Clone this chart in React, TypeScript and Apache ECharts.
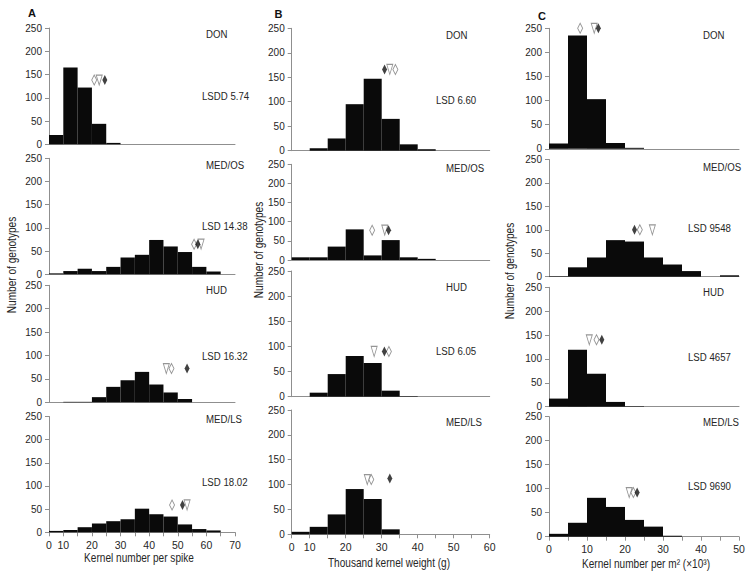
import React, { useEffect, useRef } from "react";
import * as echarts from "echarts";

// ---------- DATA ----------
const panelNames = ["DON", "MED/OS", "HUD", "MED/LS"];

// Column A: kernel number per spike (13 bins)
const countsA = [
  [20, 165, 122, 44, 3, 0, 0, 0, 0, 0, 0, 0, 0],
  [2, 7, 12, 7, 16, 36, 42, 74, 60, 48, 16, 6, 0],
  [0, 1, 1, 11, 33, 47, 65, 38, 21, 7, 0, 0, 0],
  [3, 5, 11, 19, 24, 28, 51, 39, 34, 17, 7, 4, 0],
];
const tickLabelsA = ["0", "10", "", "20", "", "30", "", "40", "", "50", "", "60", "", "70"];
const lsdA = ["LSDD 5.74", "LSD 14.38", "LSD 16.32", "LSD 18.02"];
const openDiamondA = [[3.16, 138], [10.14, 65], [8.56, 72], [8.6, 59]];
const triangleA = [[3.51, 138], [10.63, 65], [8.2, 72], [9.65, 59]];
const solidDiamondA = [[3.9, 138], [10.4, 65], [9.65, 72], [9.33, 59]];

// Column B: thousand kernel weight (11 bins)
const countsB = [
  [0, 5, 25, 95, 147, 65, 13, 3, 0, 0, 0],
  [7, 7, 35, 80, 12, 52, 7, 3, 0, 0, 0],
  [0, 8, 45, 81, 67, 12, 1, 0, 0, 0, 0],
  [5, 15, 40, 91, 71, 10, 0, 0, 0, 0, 0],
];
const tickLabelsB = ["0", "10", "", "20", "", "30", "", "40", "", "50", "", "60"];
const lsdB = ["LSD 6.60", "", "LSD 6.05", ""];
const openDiamondB = [[5.76, 166], [4.47, 78], [5.4, 90], [4.42, 110]];
const triangleB = [[5.45, 166], [5.17, 78], [4.58, 90], [4.2, 110]];
const solidDiamondB = [[5.16, 166], [5.38, 78], [5.15, 90], [5.45, 112]];

// Column C: kernel number per m2 (x10^3), bins of 5
const countsC = [
  [11, 235, 103, 12, 2, 0, 0, 0, 0, 0],
  [1, 20, 41, 78, 75, 41, 26, 12, 0, 3],
  [17, 119, 69, 10, 1, 0, 0, 0, 0, 0],
  [6, 29, 81, 62, 35, 21, 2, 0, 0, 0],
];
const tickLabelsC = ["0", "", "10", "", "20", "", "30", "", "40", "", "50"];
const lsdC = ["", "LSD 9548", "LSD 4657", "LSD 9690"];
const openDiamondC = [[8.2, 250], [23.9, 100], [12.5, 140], [22.2, 92]];
const triangleC = [[11.9, 250], [27.2, 100], [10.6, 140], [21.1, 92]];
const solidDiamondC = [[13, 250], [22.5, 100], [13.9, 140], [23.2, 92]];

const yTitle = "Number of genotypes";
const xTitles = ["Kernel number per spike", "Thousand kernel weight (g)", "Kernel number per m² (×10³)"];
const panelLetters = ["A", "B", "C"];

// ---------- LAYOUT ----------
const FONT = "'Liberation Sans', sans-serif";
const NARROW = 0.84;
const AXIS_GRAY = "#8f8f8f";
const TEXT = "#262626";

const columns = [
  {
    counts: countsA, binW: 1, ticks: tickLabelsA, lsd: lsdA,
    od: openDiamondA, tr: triangleA, sd: solidDiamondA,
    left: 49, width: 186,
    tops: [28, 158.3, 285.3, 416.5], bottoms: [144.3, 274.3, 402.3, 532.3],
    nameX: 206, nameY: [34, 165, 290, 419], lsdX: 202, lsdY: [96, 226, 356, 482],
    yTitle: { x: 12, y: 265 }, xTitle: { x: 139, y: 558 }, letter: { x: 32, y: 12.5 },
  },
  {
    counts: countsB, binW: 1, ticks: tickLabelsB, lsd: lsdB,
    od: openDiamondB, tr: triangleB, sd: solidDiamondB,
    left: 291.7, width: 198,
    tops: [28.3, 164.3, 271, 410], bottoms: [150.7, 260, 396.7, 534.3],
    nameX: 446, nameY: [35, 168, 287, 422], lsdX: 436, lsdY: [100, 0, 351, 0],
    yTitle: { x: 259, y: 250 }, xTitle: { x: 389, y: 563 }, letter: { x: 278.5, y: 14 },
  },
  {
    counts: countsC, binW: 5, ticks: tickLabelsC, lsd: lsdC,
    od: openDiamondC, tr: triangleC, sd: solidDiamondC,
    left: 549, width: 190,
    tops: [28.3, 159.5, 287.3, 416.7], bottoms: [148.8, 276.7, 406.7, 536.7],
    nameX: 703, nameY: [35, 167, 292, 422], lsdX: 688, lsdY: [0, 228, 357, 486],
    yTitle: { x: 510, y: 271 }, xTitle: { x: 646, y: 564 }, letter: { x: 542, y: 15.5 },
  },
];

function narrowText(x: number, y: number, text: string, size: number, align: string, extra: any = {}) {
  return {
    type: "text",
    x,
    y,
    scaleX: NARROW,
    ...extra,
    style: {
      text,
      fontSize: size,
      fontFamily: FONT,
      fill: TEXT,
      textAlign: align,
      textVerticalAlign: "middle",
    },
  };
}

function buildOption() {
  const grid: any[] = [];
  const xAxis: any[] = [];
  const yAxis: any[] = [];
  const series: any[] = [];
  const graphic: any[] = [];

  columns.forEach((col, ci) => {
    const nBins = col.counts[0].length;
    for (let r = 0; r < 4; r++) {
      const gi = grid.length;
      const isBottom = r === 3;
      grid.push({
        left: col.left,
        top: col.tops[r],
        width: col.width,
        height: col.bottoms[r] - col.tops[r],
        containLabel: false,
      });
      const labels = col.ticks;
      const bw = col.binW;
      xAxis.push({
        type: "value",
        gridIndex: gi,
        min: 0,
        max: nBins * bw,
        interval: bw,
        axisLine: { show: true, onZero: false, lineStyle: { color: AXIS_GRAY, width: 1 } },
        axisTick: { show: isBottom, inside: false, length: 4, lineStyle: { color: AXIS_GRAY } },
        axisLabel: {
          show: isBottom,
          margin: 7,
          fontSize: 10.5,
          fontFamily: FONT,
          color: TEXT,
          showMinLabel: true,
          showMaxLabel: true,
          formatter: (v: number) => labels[Math.round(v / bw)] ?? "",
        },
        splitLine: { show: false },
      });
      yAxis.push({
        type: "value",
        gridIndex: gi,
        min: 0,
        max: 250,
        interval: 50,
        axisLine: { show: true, lineStyle: { color: AXIS_GRAY, width: 1 } },
        axisTick: { show: true, inside: false, length: 4, lineStyle: { color: AXIS_GRAY } },
        axisLabel: { margin: 7, fontSize: 10, lineHeight: 8, fontFamily: FONT, color: TEXT },
        splitLine: { show: false },
      });

      series.push({
        type: "custom",
        xAxisIndex: gi,
        yAxisIndex: gi,
        clip: false,
        encode: { x: 0, y: 1 },
        data: col.counts[r].map((c, i) => [i * bw, c]),
        renderItem: (params: any, api: any) => {
          const x0 = api.value(0);
          const v = api.value(1);
          if (!v) return null;
          const p0 = api.coord([x0, 0]);
          const p1 = api.coord([x0 + bw, v]);
          return {
            type: "rect",
            shape: { x: p0[0], y: p1[1], width: p1[0] - p0[0], height: p0[1] - p1[1] },
            style: { fill: "#0a0a0a", stroke: null },
          };
        },
      });

      const markerBase = {
        type: "scatter",
        xAxisIndex: gi,
        yAxisIndex: gi,
        clip: false,
        silent: true,
        z: 5,
      };
      series.push({
        ...markerBase,
        symbol: "diamond",
        symbolSize: [5, 10],
        itemStyle: { color: "#ffffff", borderColor: "#7a7a7a", borderWidth: 1 },
        data: [col.od[r]],
      });
      series.push({
        ...markerBase,
        symbol: "triangle",
        symbolRotate: 180,
        symbolSize: [6, 10],
        itemStyle: { color: "#ffffff", borderColor: "#7a7a7a", borderWidth: 1 },
        data: [col.tr[r]],
      });
      series.push({
        ...markerBase,
        symbol: "diamond",
        symbolSize: [5, 10],
        itemStyle: { color: "#111111" },
        data: [col.sd[r]],
      });

      graphic.push(narrowText(col.nameX, col.nameY[r], panelNames[r], 11.5, "left"));
      if (col.lsd[r]) {
        graphic.push(narrowText(col.lsdX, col.lsdY[r], col.lsd[r], 11.5, "left"));
      }
    }

    graphic.push(
      narrowText(col.yTitle.x, col.yTitle.y, yTitle, 12, "center", { rotation: Math.PI / 2 })
    );
    graphic.push(narrowText(col.xTitle.x, col.xTitle.y, xTitles[ci], 12, "center"));
    graphic.push({
      type: "text",
      x: col.letter.x,
      y: col.letter.y,
      style: {
        text: panelLetters[ci],
        fontSize: 11,
        fontWeight: "bold",
        fontFamily: FONT,
        fill: "#111",
        textAlign: "center",
        textVerticalAlign: "middle",
      },
    });
  });

  return {
    animation: false,
    backgroundColor: "#ffffff",
    grid,
    xAxis,
    yAxis,
    series,
    graphic,
  };
}

export default function App() {
  const ref = useRef<HTMLDivElement>(null);
  useEffect(() => {
    if (!ref.current) return;
    const chart = echarts.init(ref.current, undefined, { renderer: "svg" });
    chart.setOption(buildOption() as any);
    return () => chart.dispose();
  }, []);
  return (
    <div
      ref={ref}
      style={{ position: "absolute", left: 0, top: 0, width: 753, height: 578, background: "#fff" }}
    />
  );
}
